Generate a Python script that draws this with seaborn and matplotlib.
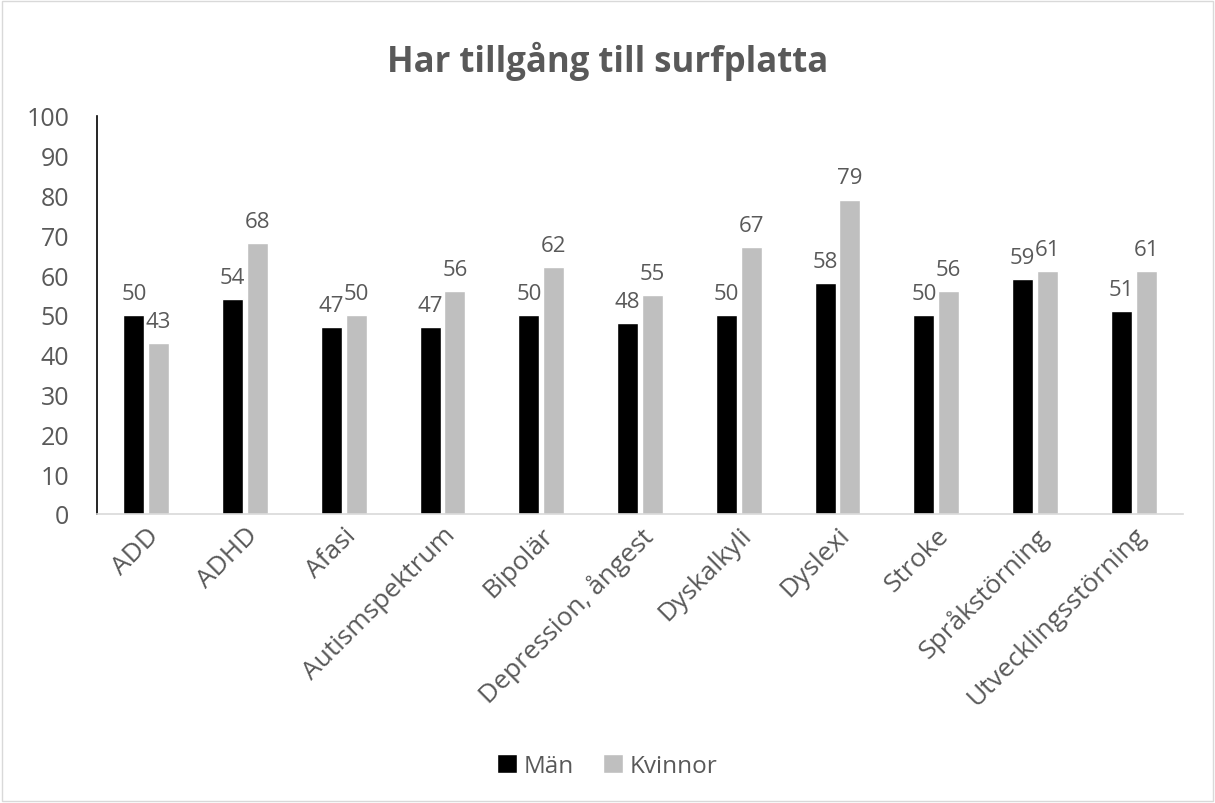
import pandas as pd
import matplotlib.pyplot as plt
import seaborn as sns
from matplotlib.patches import Rectangle

# data
categories = ['ADD', 'ADHD', 'Afasi', 'Autismspektrum', 'Bipolär',
              'Depression, ångest', 'Dyskalkyli', 'Dyslexi', 'Stroke',
              'Språkstörning', 'Utvecklingsstörning']
man = [50, 54, 47, 47, 50, 48, 50, 58, 50, 59, 51]
kvinnor = [43, 68, 50, 56, 62, 55, 67, 79, 56, 61, 61]

df = pd.DataFrame({
    'kategori': categories * 2,
    'andel': man + kvinnor,
    'kon': ['Män'] * len(man) + ['Kvinnor'] * len(kvinnor),
})

TXT = '#595959'

sns.set_theme(style='white')
plt.rcParams['font.family'] = ['Open Sans', 'DejaVu Sans']

fig = plt.figure(figsize=(12.15, 8.04), dpi=100)
ax = fig.add_axes([0.0798, 0.3595, 0.894, 0.495])

sns.barplot(data=df, x='kategori', y='andel', hue='kon',
            palette={'Män': '#000000', 'Kvinnor': '#bfbfbf'},
            width=0.5, gap=0.15, ax=ax, legend=True)

for cont in ax.containers:
    ax.bar_label(cont, padding=8, fontsize=16, color=TXT)

ax.set_ylim(0, 100)
ax.set_yticks(range(0, 101, 10))
ax.set_xlim(-0.5, len(categories) - 0.5)
ax.set_xlabel('')
ax.set_ylabel('')
ax.tick_params(axis='y', labelsize=18, labelcolor=TXT, length=0, pad=20)
ax.tick_params(axis='x', labelsize=19, labelcolor=TXT, length=0, pad=6)
plt.setp(ax.get_xticklabels(), rotation=45, ha='right', rotation_mode='anchor')

for side in ['top', 'right']:
    ax.spines[side].set_visible(False)
ax.spines['left'].set_color('#000000')
ax.spines['left'].set_linewidth(1.2)
ax.spines['bottom'].set_color('#d9d9d9')
ax.spines['bottom'].set_linewidth(1.2)

fig.suptitle('Har tillgång till surfplatta', y=0.948, fontsize=25,
             fontweight='bold', color=TXT)

handles, labels = ax.get_legend_handles_labels()
ax.get_legend().remove()
fig.legend(handles, labels, loc='center', bbox_to_anchor=(0.5, 0.046),
           ncol=2, frameon=False, fontsize=17.5, handlelength=0.8,
           handleheight=0.8, handletextpad=0.3, columnspacing=1.2,
           labelcolor=TXT)

fig.patches.append(Rectangle((0.002, 0.002), 0.996, 0.996, transform=fig.transFigure,
                             fill=False, edgecolor='#d9d9d9', linewidth=1))

plt.savefig('out.png', dpi=100)
plt.close()
